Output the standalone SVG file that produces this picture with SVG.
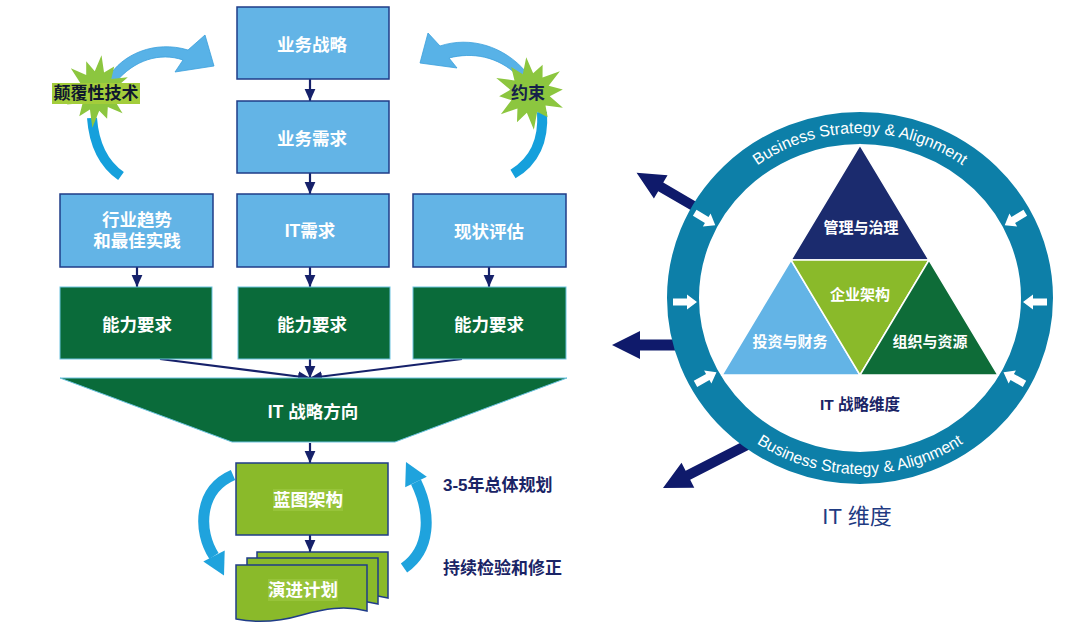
<svg xmlns="http://www.w3.org/2000/svg" width="1080" height="633" viewBox="0 0 1080 633">
<defs>
<style>
text{font-family:"Liberation Sans","Noto Sans CJK SC",sans-serif;}
.box{fill:#63b4e6;stroke:#1f3c88;stroke-width:1.5}
.gbox{fill:#0a6b3a;stroke:#6cc3e0;stroke-width:1}
.lbox{fill:#8aba2a;stroke:#1f3c88;stroke-width:1.5}
.hl{fill:#97c43a}
.wt{fill:#fff;font-weight:bold;font-size:17.5px;text-anchor:middle;dominant-baseline:central}
.conn{stroke:#16216a;stroke-width:2.2;fill:none}
.nt{fill:#1a2466;font-weight:bold;font-size:17px;dominant-baseline:central}
.navy{fill:#0f1a6b}
.wa{fill:#fff}
.ringt{fill:#fff;font-size:16px;text-anchor:middle}
.trit{fill:#fff;font-weight:bold;font-size:15px;text-anchor:middle;dominant-baseline:central}
.star{fill:#8cc63f}
.carc{fill:none;stroke:#15a0dc;stroke-width:10}
.tarr{fill:#58b2e7;stroke:#3b9fdc;stroke-width:0.8}
.cyc{fill:none;stroke:#1fa3dd;stroke-width:11}
.cych{fill:#1fa3dd}
.tri{stroke:#fff;stroke-width:1.5}
</style>
<marker id="ah" viewBox="0 0 10 10" refX="10" refY="5" markerWidth="12" markerHeight="12" markerUnits="userSpaceOnUse" orient="auto"><path d="M0,0.5 L10,5 L0,9.5 Z" fill="#16216a"/></marker>
<path id="star" d="M0,-36 L5.2,-19.3 L15.5,-26.8 L14.1,-14.1 L32,-18.5 L19.3,-5.2 L33,0 L19.3,5.2 L31.2,18 L14.1,14.1 L15,26 L5.2,19.3 L0,37 L-5.2,19.3 L-16,27.7 L-14.1,14.1 L-31.2,18 L-19.3,5.2 L-31,0 L-19.3,-5.2 L-32,-18.5 L-14.1,-14.1 L-16,-27.7 L-5.2,-19.3 Z"/>
<path id="wa" d="M-12,-3.5 H2 V-7.5 L12,0 L2,7.5 V3.5 H-12 Z"/>
<path id="tp" d="M688,298 A172,165 0 0 1 1032,298"/>
<path id="bp" d="M677,298 A183,176 0 0 0 1043,298"/>
</defs>

<!-- disruptive tech / constraint arrows and bursts -->
<g id="n-disrupt">
<path class="carc" d="M92,118 Q95,158 121,176"/>
<path class="tarr" d="M108,78 C122,54 155,40 188,50 L205,35 L214,66 L175,72 L183,60 C160,52 134,60 116,82 Z"/>
<use href="#star" class="star" transform="translate(97,91) scale(0.9,1) rotate(8)"/>
<rect x="52" y="83" width="88" height="21" fill="#a3cd3b"/>
<text x="96" y="93.5" font-size="17" font-weight="bold" fill="#10182e" text-anchor="middle" dominant-baseline="central">颠覆性技术</text>
</g>
<g id="n-constraint">
<path class="carc" d="M542,112 Q545,155 513,174"/>
<path class="tarr" d="M428,33 L440,46 C470,36 504,46 526,72 L518,76 C498,56 472,52 449,58 L457,68 L420,63 Z"/>
<use href="#star" class="star" transform="translate(530,93) rotate(-6)"/>
<text x="528" y="93" font-size="17" font-weight="bold" fill="#15204a" text-anchor="middle" dominant-baseline="central">约束</text>
</g>

<!-- connectors -->
<g id="connectors">
<path class="conn" marker-end="url(#ah)" d="M310,79 V101"/>
<path class="conn" marker-end="url(#ah)" d="M310,173 V194"/>
<path class="conn" marker-end="url(#ah)" d="M137,267 V287"/>
<path class="conn" marker-end="url(#ah)" d="M310,267 V287"/>
<path class="conn" marker-end="url(#ah)" d="M489,267 V287"/>
<path class="conn" marker-end="url(#ah)" d="M160,359 L310,378"/>
<path class="conn" marker-end="url(#ah)" d="M310,359 V378"/>
<path class="conn" marker-end="url(#ah)" d="M462,359 L310,378"/>
<path class="conn" marker-end="url(#ah)" d="M310,443 V463"/>
<path class="conn" marker-end="url(#ah)" d="M310,535 V552"/>
</g>

<g id="n-bizstrategy"><rect class="box" x="237" y="7" width="152" height="72"/><text class="wt" x="312" y="45">业务战略</text></g>
<g id="n-bizreq"><rect class="box" x="237" y="101" width="152" height="72"/><text class="wt" x="312" y="139">业务需求</text></g>
<g id="n-trends"><rect class="box" x="60" y="194" width="153" height="73"/><text class="wt" x="137" y="220">行业趋势</text><text class="wt" x="137" y="241">和最佳实践</text></g>
<g id="n-itreq"><rect class="box" x="237" y="194" width="152" height="73"/><text class="wt" x="310" y="231">IT需求</text></g>
<g id="n-assess"><rect class="box" x="413" y="194" width="153" height="73"/><text class="wt" x="489" y="232">现状评估</text></g>

<g id="n-cap1"><rect class="gbox" x="60" y="287" width="152" height="72"/><text class="wt" x="137" y="325">能力要求</text></g>
<g id="n-cap2"><rect class="gbox" x="238" y="287" width="152" height="72"/><text class="wt" x="312" y="325">能力要求</text></g>
<g id="n-cap3"><rect class="gbox" x="413" y="287" width="153" height="72"/><text class="wt" x="489" y="325">能力要求</text></g>

<g id="n-direction"><path class="gbox" d="M60,378 L567,378 L395,442 L232,442 Z"/><text class="wt" x="313" y="412">IT 战略方向</text></g>

<g id="n-blueprint"><rect class="lbox" x="236" y="463" width="152" height="72"/><rect class="hl" x="273" y="489" width="70" height="22"/><text class="wt" x="308" y="500">蓝图架构</text></g>

<g id="n-plan">
<path class="lbox" transform="translate(257,552)" d="M0,0 H131 V46 C108,40 88,44 66,50 C42,57 20,58 0,54 Z"/>
<path class="lbox" transform="translate(247,558)" d="M0,0 H131 V46 C108,40 88,44 66,50 C42,57 20,58 0,54 Z"/>
<path class="lbox" transform="translate(236,565)" d="M0,0 H131 V46 C108,40 88,44 66,50 C42,57 20,58 0,54 Z"/>
<rect class="hl" x="268" y="579" width="70" height="22"/>
<text class="wt" x="303" y="590">演进计划</text>
</g>

<g id="cycle-arrows">
<path class="cyc" d="M233,475 C198,490 198,532 214,556"/>
<polygon class="cych" points="224.7,550.5 224,575.6 203.3,561.5"/>
<path class="cyc" d="M404,568 C430,550 432,515 416,482"/>
<polygon class="cych" points="426.8,476.7 406,462 405.2,487.3"/>
</g>

<text id="t-plan35" class="nt" x="443" y="485">3-5年总体规划</text>
<text id="t-check" class="nt" x="443" y="568">持续检验和修正</text>

<!-- right: IT dimensions -->
<g id="out-arrows">
<path class="navy" transform="translate(697,208) rotate(210.3)" d="M0,-5 H42 V-13.5 L70,0 L42,13.5 V5 H0 Z"/>
<path class="navy" transform="translate(680,345) rotate(180)" d="M0,-5.5 H40 V-14 L68,0 L40,14 V5.5 H0 Z"/>
<path class="navy" transform="translate(752,442.5) rotate(152.9)" d="M0,-5 H72 V-14 L100,0 L72,14 V5 H0 Z"/>
</g>

<g id="ring">
<ellipse cx="860" cy="298" rx="177" ry="170" fill="none" stroke="#0d7fa8" stroke-width="32"/>
<text class="ringt"><textPath href="#tp" startOffset="50%">Business Strategy &amp; Alignment</textPath></text>
<text class="ringt"><textPath href="#bp" startOffset="50%">Business Strategy &amp; Alignment</textPath></text>
<use href="#wa" class="wa" transform="translate(685,302)"/>
<use href="#wa" class="wa" transform="translate(705,219) rotate(31)"/>
<use href="#wa" class="wa" transform="translate(706,378) rotate(-29)"/>
<use href="#wa" class="wa" transform="translate(1035,302) rotate(180)"/>
<use href="#wa" class="wa" transform="translate(1015,219) rotate(149)"/>
<use href="#wa" class="wa" transform="translate(1014,378) rotate(-151)"/>
</g>

<g id="n-governance"><path class="tri" fill="#1b2b6e" d="M860,145 L791,260 L929,260 Z"/><text class="trit" x="861" y="227">管理与治理</text></g>
<g id="n-invest"><path class="tri" fill="#63b4e6" d="M791,260 L722,375 L860,375 Z"/><text class="trit" x="790" y="341">投资与财务</text></g>
<g id="n-ea"><path class="tri" fill="#8aba2a" d="M791,260 L929,260 L860,375 Z"/><text class="trit" x="860" y="294">企业架构</text></g>
<g id="n-org"><path class="tri" fill="#0e6c38" d="M929,260 L860,375 L998,375 Z"/><text class="trit" x="930" y="341">组织与资源</text></g>

<text id="t-itdim" x="860" y="404" fill="#1a2466" font-size="15.5" font-weight="bold" text-anchor="middle" dominant-baseline="central">IT 战略维度</text>
<text id="t-itwd" x="857" y="516" fill="#1f3b82" font-size="22" text-anchor="middle" dominant-baseline="central">IT 维度</text>
</svg>
